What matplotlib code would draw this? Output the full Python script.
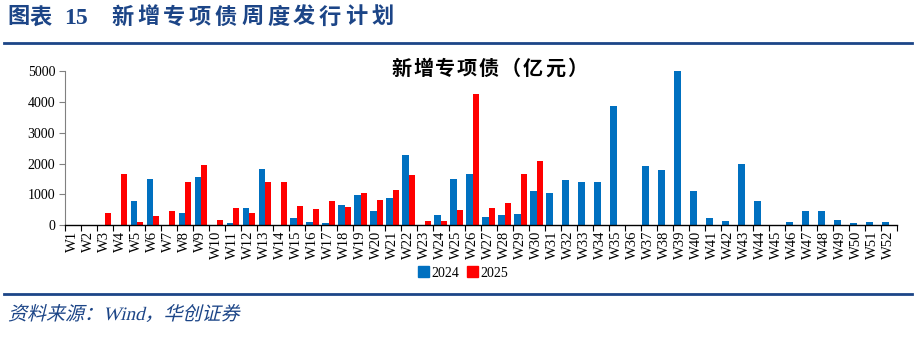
import numpy as np
import matplotlib
matplotlib.use("Agg")
import matplotlib.pyplot as plt
import matplotlib.transforms as mtransforms
from matplotlib.patches import Patch, PathPatch
from matplotlib.textpath import TextPath
from matplotlib.font_manager import FontProperties

weeks = ["W%d" % i for i in range(1, 53)]

# 新增专项债周度发行（亿元）
issue_2024 = [0, 0, 0, 0, 768, 1483, 0, 379, 1569, 0,
              76, 541, 1807, 0, 238, 97, 76, 639, 974, 455,
              866, 2273, 0, 314, 1483, 1656, 249, 335, 357, 1115,
              1028, 1450, 1385, 1385, 3864, 0, 1905, 1775, 5000, 1115,
              216, 130, 1991, 779, 0, 108, 455, 455, 152, 65,
              108, 87]
issue_2025 = [0, 0, 379, 1667, 97, 281, 455, 1396, 1948, 162,
              541, 379, 1385, 1385, 617, 509, 790, 574, 1050, 801,
              1126, 1623, 130, 130, 476, 4264, 541, 703, 1645, 2089]

blue = "#0070C0"
red = "#FF0000"
navy = "#1C4587"
serif_cjk = ["Liberation Serif", "Noto Sans CJK SC"]

W, H = 915, 337
fig = plt.figure(figsize=(W / 100, H / 100), dpi=100)
ax = fig.add_axes([0.071, 0.332, 0.909, 0.457])


def spaced(s, x_px, y_px, step_px, **kw):
    # one character at a time so the glyphs get the wider spacing
    for i, ch in enumerate(s):
        fig.text((x_px + i * step_px) / W, 1 - y_px / H, ch,
                 ha="left", va="center", **kw)


x = np.arange(len(weeks))
w = 0.4
ax.bar(x - 0.2, issue_2024, width=w, color=blue, label="2024")
ax.bar(np.arange(len(issue_2025)) + 0.2, issue_2025, width=w, color=red, label="2025")

ax.set_xlim(-0.5, len(weeks) - 0.5)
ax.set_ylim(0, 5000)
ax.set_yticks(range(0, 5001, 1000))
ax.set_yticklabels([str(v) for v in range(0, 5001, 1000)],
                   fontfamily="Liberation Serif", fontsize=10)
ax.set_xticks(x)
ax.set_xticklabels(weeks, rotation=90, fontfamily="Liberation Serif", fontsize=10.5)
ax.set_xticks(np.arange(len(weeks) + 1) - 0.5, minor=True)
ax.tick_params(axis="x", which="major", length=0, pad=4)
ax.tick_params(axis="x", which="minor", length=4, width=0.8, color="black", direction="out")
ax.tick_params(axis="y", length=4, width=0.8, color="#808080", pad=3)

for side in ("top", "right"):
    ax.spines[side].set_visible(False)
ax.spines["left"].set_color("#808080")
ax.spines["bottom"].set_color("black")
ax.spines["bottom"].set_linewidth(1)

spaced("新增专项债（亿元）", 391, 70, 22, fontsize=14.5, fontweight="bold",
       family=serif_cjk, color="black")

handles = [Patch(color=blue, label="2024"), Patch(color=red, label="2025")]
fig.legend(handles=handles, loc="center", bbox_to_anchor=(0.506, 0.19), ncol=2,
           frameon=False, prop={"family": "Liberation Serif", "size": 10},
           handlelength=0.8, handleheight=0.8, handletextpad=0.2, columnspacing=0.5)

# 页眉
spaced("图表", 7, 18, 23, fontsize=16, fontweight="bold", family=serif_cjk, color=navy)
fig.text(64 / W, 1 - 18 / H, "15", ha="left", va="center", fontsize=17,
         fontweight="bold", family="Liberation Serif", color=navy)
spaced("新增专项债周度发行计划", 111, 18, 26, fontsize=16, fontweight="bold",
       family=serif_cjk, color=navy)
fig.add_artist(plt.Line2D([0.004, 0.997], [1 - 43 / H, 1 - 43 / H], color=navy, lw=2))
fig.add_artist(plt.Line2D([0.004, 0.997], [1 - 294 / H, 1 - 294 / H], color=navy, lw=2))

# 页脚：斜体来源说明
src = TextPath((0, 0), "资料来源：Wind，华创证券", size=19,
               prop=FontProperties(family=serif_cjk))
skew = mtransforms.Affine2D().skew_deg(14, 0).translate(8, H - 320)
fig.add_artist(PathPatch(src, transform=skew, color=navy, lw=0))

fig.savefig("out.png", dpi=100)
